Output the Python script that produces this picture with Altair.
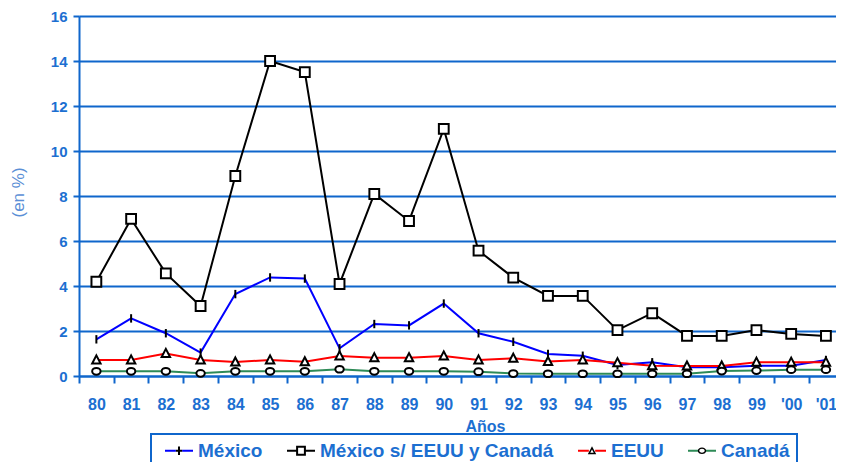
import altair as alt
import pandas as pd

years = ["80", "81", "82", "83", "84", "85", "86", "87", "88", "89", "90",
         "91", "92", "93", "94", "95", "96", "97", "98", "99", "'00", "'01"]

names = ["México", "México s/ EEUU y Canadá", "EEUU", "Canadá"]

mexico = [1.63, 2.56, 1.90, 1.04, 3.64, 4.38, 4.33, 1.23, 2.31, 2.25, 3.22,
          1.90, 1.52, 0.98, 0.90, 0.49, 0.61, 0.39, 0.39, 0.46, 0.46, 0.71]
mexico_sin = [4.19, 6.98, 4.56, 3.11, 8.89, 14.00, 13.51, 4.09, 8.09, 6.89, 10.98,
              5.57, 4.37, 3.56, 3.56, 2.04, 2.79, 1.78, 1.78, 2.04, 1.87, 1.78]
eeuu = [0.71, 0.71, 1.00, 0.71, 0.62, 0.71, 0.63, 0.89, 0.81, 0.81, 0.89,
        0.71, 0.79, 0.64, 0.71, 0.59, 0.46, 0.44, 0.44, 0.61, 0.61, 0.61]
canada = [0.21, 0.21, 0.21, 0.12, 0.21, 0.21, 0.21, 0.30, 0.21, 0.21, 0.21,
          0.19, 0.11, 0.10, 0.10, 0.10, 0.10, 0.10, 0.22, 0.24, 0.28, 0.28]

series_values = [mexico, mexico_sin, eeuu, canada]
line_colors = ["#0000ff", "#000000", "#ff0000", "#2e8b57"]

# chart marker shapes (symbol units, size 196 -> 7 px per unit)
marker_paths = [
    "M0,-0.6V0.6",
    "M-0.7,-0.7H0.7V0.7H-0.7Z",
    "M0,-0.66L0.6,0.5H-0.6Z",
    "M-0.6,0A0.6,0.48 0 1,0 0.6,0A0.6,0.48 0 1,0 -0.6,0Z",
]
# legend marker glyphs drawn as filled outlines (ring = outer + reversed inner)
legend_marker_paths = [
    "M-0.143,-0.6H0.143V0.6H-0.143ZM-0.45,-0.143H0.45V0.143H-0.45Z",
    "M-0.7,-0.7H0.7V0.7H-0.7ZM-0.414,-0.414V0.414H0.414V-0.414Z",
    "M0,-0.66L0.6,0.5H-0.6ZM0,-0.194L-0.248,0.286H0.248Z",
    "M-0.6,0A0.6,0.48 0 1,1 0.6,0A0.6,0.48 0 1,1 -0.6,0Z"
    "M-0.39,0A0.39,0.27 0 1,0 0.39,0A0.39,0.27 0 1,0 -0.39,0Z",
    "M0,0",
]
legend_line = "M-2,0H-0.45M0.45,0H2"

rows = []
for name, vals in zip(names, series_values):
    for i, (yr, v) in enumerate(zip(years, vals)):
        rows.append({"anio": yr, "idx": i, "serie": name, "valor": v})
df = pd.DataFrame(rows)

AXIS_BLUE = "#0f66cc"
LABEL_BLUE = "#1c6fd1"
TITLE_BLUE = "#5b8fd6"
FONT = "Liberation Sans"

x_enc = alt.X(
    "anio:N",
    sort=years,
    scale=alt.Scale(range=[0, 764.3], paddingInner=0, paddingOuter=0),
    axis=alt.Axis(
        title="Años",
        titleX=406, titleY=50, titleAlign="center", titleBaseline="middle",
        titleFontSize=16, titleFontWeight="bold", titleColor=LABEL_BLUE, titleFont=FONT,
        labelAngle=0, labelFontSize=16, labelFontWeight="bold", labelColor=LABEL_BLUE,
        labelFont=FONT, labelPadding=13,
        tickBand="extent", tickSize=7, tickWidth=2, tickColor=AXIS_BLUE,
        domainColor=AXIS_BLUE, domainWidth=2, grid=False,
    ),
)

y_enc = alt.Y(
    "valor:Q",
    scale=alt.Scale(domain=[0, 16], nice=False),
    axis=alt.Axis(
        values=list(range(0, 17, 2)),
        title="(en %)",
        titleX=-61, titleY=176, titleAngle=270, titleAlign="center", titleBaseline="middle",
        titleFontSize=17, titleFontWeight="normal", titleColor=TITLE_BLUE, titleFont=FONT,
        labelFontSize=15, labelFontWeight="bold", labelColor=LABEL_BLUE, labelFont=FONT,
        labelPadding=6, tickSize=6, tickWidth=2, tickColor=AXIS_BLUE,
        domainColor=AXIS_BLUE, domainWidth=2,
        grid=True, gridColor=AXIS_BLUE, gridWidth=2,
    ),
)

base = alt.Chart(df)

SYM = 196

legend_common = dict(
    title=None, orient="none", legendX=72, legendY=418,
    direction="horizontal", columns=4,
    symbolSize=SYM, symbolStrokeWidth=2, symbolOffset=11.5,
    labelFontSize=19, labelFontWeight="bold", labelColor=LABEL_BLUE, labelFont=FONT,
    labelOffset=9.5, labelLimit=400, columnPadding=17, padding=7,
)

lines = base.mark_line(strokeWidth=2).encode(
    x=x_enc,
    y=y_enc,
    order=alt.Order("idx:Q"),
    color=alt.Color(
        "serie:N",
        scale=alt.Scale(domain=names, range=line_colors),
        legend=alt.Legend(symbolType=legend_line, strokeColor=AXIS_BLUE, **legend_common),
    ),
)

points = base.mark_point(
    filled=False, fill="white", stroke="black", strokeWidth=2, opacity=1, size=SYM
).encode(
    x=x_enc,
    y=y_enc,
    shape=alt.Shape("serie:N", scale=alt.Scale(domain=names, range=marker_paths), legend=None),
)

# zero-size layer that only carries the marker part of the legend
legend_carrier = base.mark_point(
    filled=True, color="black", size=0, opacity=1
).encode(
    x=x_enc,
    y=y_enc,
    shape=alt.Shape(
        "serie:N",
        scale=alt.Scale(domain=names + ["~"], range=legend_marker_paths),
        legend=alt.Legend(
            values=names, symbolFillColor="black", symbolStrokeColor="transparent",
            symbolOpacity=1, labelOpacity=0, **legend_common,
        ),
    ),
)

chart = alt.layer(lines, points, legend_carrier).resolve_scale(
    shape="independent"
).properties(
    width=757,
    height=360,
    autosize=alt.AutoSizeParams(type="none"),
    padding={"left": 71, "top": 8, "right": 0, "bottom": 86},
).configure_view(stroke=None).configure(font=FONT).configure_legend(strokeWidth=2)

chart.save("out.html", embed_options={"renderer": "svg", "actions": False})
